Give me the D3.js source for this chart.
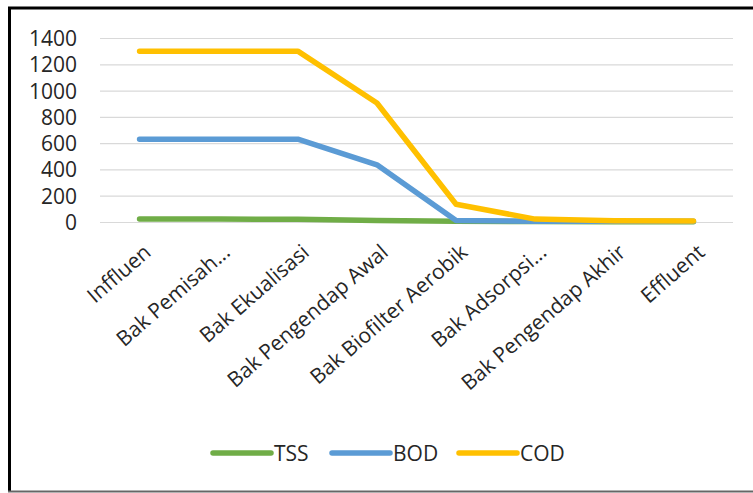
<!DOCTYPE html>
<html>
<head>
<meta charset="utf-8">
<script src="https://cdn.jsdelivr.net/npm/d3@7/dist/d3.min.js"></script>
<style>
  html, body { margin: 0; padding: 0; background: #fff; }
  svg { display: block; }
  text { font-family: "Open Sans", "Liberation Sans", sans-serif; fill: #262626; }
</style>
</head>
<body>
<svg id="chart" width="753" height="493"></svg>
<script>
const categories = ["Inffluen", "Bak Pemisah...", "Bak Ekualisasi", "Bak Pengendap Awal", "Bak Biofilter Aerobik", "Bak Adsorpsi...", "Bak Pengendap Akhir", "Effluent"];
const tss = [22, 22, 20, 12, 5, 3, 2, 2];
const bod = [630, 630, 630, 435, 12, 6, 5, 5];
const cod = [1300, 1300, 1300, 905, 135, 22, 10, 8];
const yTicks = [0, 200, 400, 600, 800, 1000, 1200, 1400];
const seriesNames = ["TSS", "BOD", "COD"];
const seriesColors = ["#70AD47", "#5B9BD5", "#FFC000"];

const series = [
  { name: seriesNames[0], values: tss, color: seriesColors[0] },
  { name: seriesNames[1], values: bod, color: seriesColors[1] },
  { name: seriesNames[2], values: cod, color: seriesColors[2] }
];

const svg = d3.select("#chart");
const W = 753, H = 493;
const FS = 21;

// outer frame
svg.append("rect").attr("x", 0).attr("y", 0).attr("width", W).attr("height", H).attr("fill", "#fff");
svg.append("line").attr("x1", 9.5).attr("x2", 9.5).attr("y1", 7).attr("y2", 491).attr("stroke", "#000").attr("stroke-width", 3);
svg.append("line").attr("x1", 8).attr("x2", W).attr("y1", 8).attr("y2", 8).attr("stroke", "#000").attr("stroke-width", 3);
svg.append("line").attr("x1", 8).attr("x2", W).attr("y1", 491.5).attr("y2", 491.5).attr("stroke", "#666").attr("stroke-width", 2);

const plot = { left: 100, right: 733, top: 38, bottom: 222 };

const x = d3.scaleBand().domain(categories).range([plot.left, plot.right]);
const y = d3.scaleLinear().domain([0, 1400]).range([plot.bottom, plot.top]);

// gridlines
svg.append("g").selectAll("line").data(yTicks).join("line")
  .attr("x1", plot.left).attr("x2", plot.right)
  .attr("y1", d => y(d) + 0.5).attr("y2", d => y(d) + 0.5)
  .attr("stroke", "#D9D9D9").attr("stroke-width", 1.2);

// y axis
const yAxis = d3.axisLeft(y).tickValues(yTicks).tickFormat(d3.format("d")).tickSize(0).tickPadding(0);
const gy = svg.append("g").attr("transform", `translate(77,0)`).call(yAxis);
gy.select(".domain").remove();
gy.selectAll("text").attr("font-size", FS).attr("fill", "#262626")
  .attr("font-family", '"Open Sans", sans-serif').attr("dy", "0.36em");

// x axis
const xAxis = d3.axisBottom(x).tickSize(0).tickPadding(0);
const gx = svg.append("g").attr("transform", `translate(0,${plot.bottom})`).call(xAxis);
gx.select(".domain").remove();
gx.selectAll("text")
  .attr("font-size", FS).attr("fill", "#262626")
  .attr("font-family", '"Open Sans", sans-serif')
  .attr("text-anchor", "end")
  .attr("dy", null)
  .attr("y", 0)
  .attr("transform", "translate(9,28) rotate(-41)")
  .attr("dominant-baseline", "middle");

// lines
const line = d3.line()
  .x((d, i) => x(categories[i]) + x.bandwidth() / 2)
  .y(d => y(d));

svg.append("g").selectAll("path").data(series).join("path")
  .attr("d", d => line(d.values))
  .attr("fill", "none")
  .attr("stroke", d => d.color)
  .attr("stroke-width", 5.5)
  .attr("stroke-linejoin", "round")
  .attr("stroke-linecap", "round");

// legend
const legendX = [213, 332, 459];
const lg = svg.append("g").selectAll("g").data(series).join("g")
  .attr("transform", (d, i) => `translate(${legendX[i]},453)`);
lg.append("line").attr("x1", 0).attr("x2", 58).attr("y1", 0).attr("y2", 0)
  .attr("stroke", d => d.color).attr("stroke-width", 5.5).attr("stroke-linecap", "round");
lg.append("text").attr("x", 61).attr("y", 0).attr("dy", "0.36em")
  .attr("font-size", FS).text(d => d.name);
</script>
</body>
</html>
